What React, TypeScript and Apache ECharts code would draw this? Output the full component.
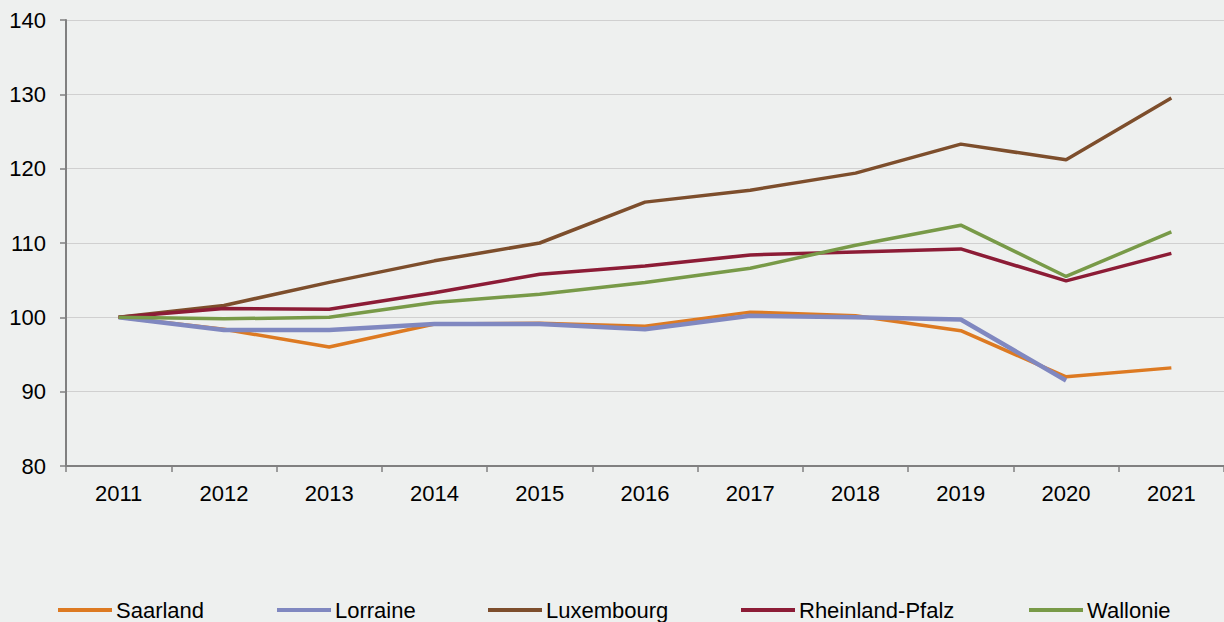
import React, { useEffect, useRef } from "react";
import * as echarts from "echarts";

const years = ["2011", "2012", "2013", "2014", "2015", "2016", "2017", "2018", "2019", "2020", "2021"];
const saarland = [100, 98.4, 96.0, 99.1, 99.2, 98.8, 100.7, 100.2, 98.2, 92.0, 93.2];
const lorraine = [100, 98.3, 98.3, 99.1, 99.1, 98.4, 100.2, 100.0, 99.7, 91.5, null];
const luxembourg = [100, 101.6, 104.7, 107.6, 110.0, 115.5, 117.1, 119.4, 123.3, 121.2, 129.5];
const rheinlandPfalz = [100, 101.2, 101.1, 103.3, 105.8, 106.9, 108.4, 108.8, 109.2, 104.9, 108.6];
const wallonie = [100, 99.8, 100.0, 102.0, 103.1, 104.7, 106.6, 109.7, 112.4, 105.5, 111.5];

const seriesDefs = [
  { name: "Saarland", data: saarland, color: "#DD7A22", width: 3.5 },
  { name: "Lorraine", data: lorraine, color: "#8088C0", width: 4.5 },
  { name: "Luxembourg", data: luxembourg, color: "#7D4E2C", width: 3.5 },
  { name: "Rheinland-Pfalz", data: rheinlandPfalz, color: "#8C1C36", width: 3.5 },
  { name: "Wallonie", data: wallonie, color: "#789A48", width: 3.5 },
];
const legendLefts = [58, 277, 488, 741, 1029];

const FONT = "'Liberation Sans', Arial, sans-serif";

export default function App() {
  const ref = useRef<HTMLDivElement>(null);
  useEffect(() => {
    document.body.style.margin = "0";
    const chart = echarts.init(ref.current!, null, { renderer: "svg" });
    chart.setOption({
      animation: false,
      backgroundColor: "#EEF0EF",
      textStyle: { fontFamily: FONT },
      grid: { left: 66, right: 0, top: 20, bottom: 156, containLabel: false },
      legend: seriesDefs.map((s, i) => ({
        top: 599,
        left: legendLefts[i],
        padding: 0,
        itemWidth: 54,
        itemHeight: 4,
        icon: "rect",
        textStyle: { fontSize: 22, color: "#000", fontFamily: FONT, padding: [0, 0, 0, -1] },
        data: [s.name],
      })),
      xAxis: {
        type: "category",
        data: years,
        boundaryGap: true,
        axisLine: { lineStyle: { color: "#808080", width: 2 } },
        axisTick: { show: true, length: 6, lineStyle: { color: "#808080", width: 1.5 } },
        axisLabel: { fontSize: 22, color: "#000", margin: 16, fontFamily: FONT },
        splitLine: { show: false },
      },
      yAxis: {
        type: "value",
        min: 80,
        max: 140,
        interval: 10,
        axisLine: { show: true, lineStyle: { color: "#808080", width: 2 } },
        axisTick: { show: true, length: 6, lineStyle: { color: "#808080", width: 1.5 } },
        axisLabel: { fontSize: 22, color: "#000", margin: 20, fontFamily: FONT },
        splitLine: { lineStyle: { color: "#D0D0D0", width: 1.2 } },
      },
      series: seriesDefs.map((s) => ({
        name: s.name,
        type: "line",
        data: s.data,
        showSymbol: false,
        symbol: "none",
        lineStyle: { color: s.color, width: s.width },
        itemStyle: { color: s.color },
      })),
    });
    return () => chart.dispose();
  }, []);
  return <div ref={ref} style={{ width: 1224, height: 622 }} />;
}
